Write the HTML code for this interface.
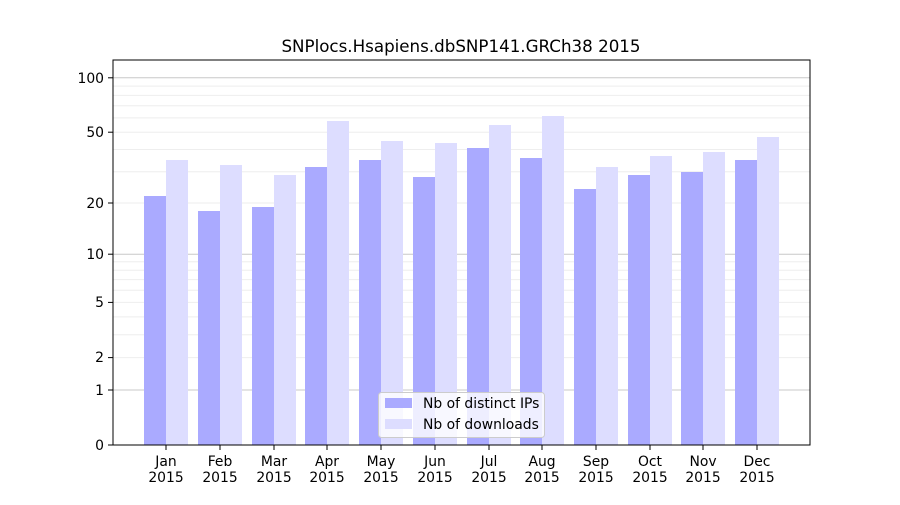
<!DOCTYPE html>
<html><head><meta charset="utf-8"><style>
body{margin:0;background:#fff;}
svg{font-family:"DejaVu Sans","Liberation Sans",sans-serif;}
</style></head><body>
<svg width="900" height="500" viewBox="0 0 900 500" xmlns="http://www.w3.org/2000/svg">
<rect width="900" height="500" fill="#fff"/>
<text x="461" y="52" font-size="16.7" text-anchor="middle">SNPlocs.Hsapiens.dbSNP141.GRCh38 2015</text>
<g stroke="#eeeeee" stroke-width="1">
<line x1="113" x2="810" y1="357.6" y2="357.6"/>
<line x1="113" x2="810" y1="334.7" y2="334.7"/>
<line x1="113" x2="810" y1="316.9" y2="316.9"/>
<line x1="113" x2="810" y1="302.4" y2="302.4"/>
<line x1="113" x2="810" y1="290.2" y2="290.2"/>
<line x1="113" x2="810" y1="279.6" y2="279.6"/>
<line x1="113" x2="810" y1="270.2" y2="270.2"/>
<line x1="113" x2="810" y1="261.8" y2="261.8"/>
<line x1="113" x2="810" y1="203" y2="203"/>
<line x1="113" x2="810" y1="171.8" y2="171.8"/>
<line x1="113" x2="810" y1="149.5" y2="149.5"/>
<line x1="113" x2="810" y1="132.2" y2="132.2"/>
<line x1="113" x2="810" y1="117.9" y2="117.9"/>
<line x1="113" x2="810" y1="105.8" y2="105.8"/>
<line x1="113" x2="810" y1="95.4" y2="95.4"/>
<line x1="113" x2="810" y1="86.1" y2="86.1"/>
</g>
<g stroke="#c8c8c8" stroke-width="1">
<line x1="113" x2="810" y1="390" y2="390"/>
<line x1="113" x2="810" y1="254.2" y2="254.2"/>
<line x1="113" x2="810" y1="77.8" y2="77.8"/>
</g>
<g fill="#aaaaff">
<rect x="144" y="196" width="22" height="249"/>
<rect x="198" y="211" width="22" height="234"/>
<rect x="252" y="207" width="22" height="238"/>
<rect x="305" y="167" width="22" height="278"/>
<rect x="359" y="160" width="22" height="285"/>
<rect x="413" y="177" width="22" height="268"/>
<rect x="467" y="148" width="22" height="297"/>
<rect x="520" y="158" width="22" height="287"/>
<rect x="574" y="189" width="22" height="256"/>
<rect x="628" y="175" width="22" height="270"/>
<rect x="681" y="172" width="22" height="273"/>
<rect x="735" y="160" width="22" height="285"/>
</g>
<g fill="#ddddff">
<rect x="166" y="160" width="22" height="285"/>
<rect x="220" y="165" width="22" height="280"/>
<rect x="274" y="175" width="22" height="270"/>
<rect x="327" y="121" width="22" height="324"/>
<rect x="381" y="141" width="22" height="304"/>
<rect x="435" y="143" width="22" height="302"/>
<rect x="489" y="125" width="22" height="320"/>
<rect x="542" y="116" width="22" height="329"/>
<rect x="596" y="167" width="22" height="278"/>
<rect x="650" y="156" width="22" height="289"/>
<rect x="703" y="152" width="22" height="293"/>
<rect x="757" y="137" width="22" height="308"/>
</g>
<rect x="113" y="60" width="697" height="385" fill="none" stroke="#000" stroke-width="1"/>
<g stroke="#000">
<line x1="108" x2="113" y1="445" y2="445"/>
<line x1="108" x2="113" y1="390" y2="390"/>
<line x1="108" x2="113" y1="357.6" y2="357.6"/>
<line x1="108" x2="113" y1="302.4" y2="302.4"/>
<line x1="108" x2="113" y1="254.2" y2="254.2"/>
<line x1="108" x2="113" y1="203" y2="203"/>
<line x1="108" x2="113" y1="132.2" y2="132.2"/>
<line x1="108" x2="113" y1="77.8" y2="77.8"/>
</g>
<g font-size="13.9" text-anchor="end">
<text x="104" y="450">0</text>
<text x="104" y="395">1</text>
<text x="104" y="362">2</text>
<text x="104" y="307">5</text>
<text x="104" y="259">10</text>
<text x="104" y="208">20</text>
<text x="104" y="137">50</text>
<text x="104" y="83">100</text>
</g>
<g stroke="#000">
<line x1="166" x2="166" y1="445" y2="450"/><line x1="220" x2="220" y1="445" y2="450"/>
<line x1="274" x2="274" y1="445" y2="450"/><line x1="327" x2="327" y1="445" y2="450"/>
<line x1="381" x2="381" y1="445" y2="450"/><line x1="435" x2="435" y1="445" y2="450"/>
<line x1="489" x2="489" y1="445" y2="450"/><line x1="542" x2="542" y1="445" y2="450"/>
<line x1="596" x2="596" y1="445" y2="450"/><line x1="650" x2="650" y1="445" y2="450"/>
<line x1="703" x2="703" y1="445" y2="450"/><line x1="757" x2="757" y1="445" y2="450"/>
</g>
<g font-size="13.9" text-anchor="middle">
<text x="166" y="466">Jan</text><text x="166" y="482">2015</text>
<text x="220" y="466">Feb</text><text x="220" y="482">2015</text>
<text x="274" y="466">Mar</text><text x="274" y="482">2015</text>
<text x="327" y="466">Apr</text><text x="327" y="482">2015</text>
<text x="381" y="466">May</text><text x="381" y="482">2015</text>
<text x="435" y="466">Jun</text><text x="435" y="482">2015</text>
<text x="489" y="466">Jul</text><text x="489" y="482">2015</text>
<text x="542" y="466">Aug</text><text x="542" y="482">2015</text>
<text x="596" y="466">Sep</text><text x="596" y="482">2015</text>
<text x="650" y="466">Oct</text><text x="650" y="482">2015</text>
<text x="703" y="466">Nov</text><text x="703" y="482">2015</text>
<text x="757" y="466">Dec</text><text x="757" y="482">2015</text>
</g>
<rect x="378.5" y="392.5" width="166" height="45" rx="3" fill="#fff" fill-opacity="0.8" stroke="#ccc"/>
<rect x="385" y="398" width="27" height="10" fill="#aaaaff"/>
<rect x="385" y="419" width="27" height="10" fill="#ddddff"/>
<text x="423" y="408" font-size="13.9">Nb of distinct IPs</text>
<text x="423" y="429" font-size="13.9">Nb of downloads</text>
</svg>
</body></html>
